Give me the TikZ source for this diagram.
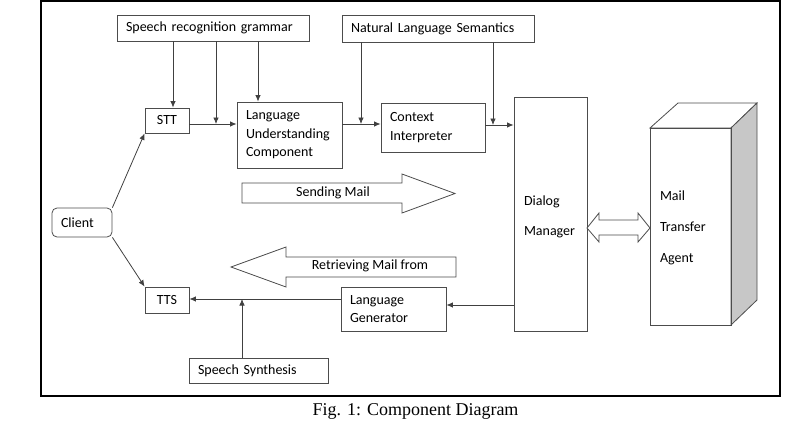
\documentclass[tikz,border=0pt]{standalone}
\usepackage{fontspec}
\setmainfont{Carlito}
\newfontfamily\capfont{Liberation Serif}
\usetikzlibrary{arrows.meta}

\tikzset{
  box/.style={draw=black!70, line width=0.8pt, inner xsep=9pt, inner ysep=0pt, align=left,
    font=\fontsize{14}{18.5}\selectfont},
  cbox/.style={box, align=center, inner xsep=0pt},
  arr/.style={draw=black!75, line width=0.8pt, -{Latex[length=6.5pt,width=5.5pt]}},
  blk/.style={draw=black!70, line width=0.8pt, fill=white, line join=miter}
}

\begin{document}
\begin{tikzpicture}[x=1pt,y=-1pt]
\useasboundingbox (0,0) rectangle (796,424);
\draw[line width=1.4pt] (41,1) rectangle (780,396);

% grammar and semantics sources
\node[box, text width=174, minimum height=26](srg) at (213,28) {Speech recognition grammar};
\node[box, text width=174, minimum height=27](nls) at (438,28.5) {Natural Language Semantics};

% input chain
\node[cbox, text width=44, minimum height=25](stt) at (167,120.5) {STT};
\node[box, text width=87, minimum height=66](luc) at (289.5,135) {Language\\Understanding\\Component};
\node[box, text width=86, minimum height=49](ci) at (433,127.5) {Context\\Interpreter};
\node[box, inner xsep=10pt, text width=53, minimum height=234,
  font=\fontsize{14}{30}\selectfont](dm) at (550.5,214) {\mbox{}\\[-14pt]Dialog\\Manager};

% output chain
\node[box, rounded corners=5pt, text width=42, minimum height=29](client) at (82,222.5) {Client};
\node[cbox, text width=44, minimum height=26](tts) at (167,300) {TTS};
\node[box, text width=87, minimum height=44](lg) at (393.5,309) {Language\\Generator};
\node[box, text width=121, minimum height=25](ss) at (258.5,370.5) {Speech Synthesis};

% mail transfer agent as a block
\draw[blk] (650,128) -- (678,103) -- (757,103) -- (731,128) -- cycle;
\draw[blk, fill=black!22] (731,128) -- (757,103) -- (757,300) -- (731,325) -- cycle;
\node[box, inner xsep=10pt, text width=61, minimum height=197,
  font=\fontsize{14}{31}\selectfont](mta) at (690.5,226.5) {\mbox{}\\[-19pt]Mail\\Transfer\\Agent};

% block arrows
\draw[blk] (242,183) -- (402,183) -- (402,174) -- (455,193.5) -- (402,213) -- (402,203) -- (242,203) -- cycle;
\node[font=\fontsize{14}{16}\selectfont](send) at (333,193) {Sending Mail};
\draw[blk] (456,257) -- (286,257) -- (286,247) -- (231,267) -- (286,287) -- (286,277) -- (456,277) -- cycle;
\node[font=\fontsize{14}{16}\selectfont](retr) at (370,266) {Retrieving Mail from};
\draw[blk] (587,228) -- (599,213) -- (599,220) -- (638,220) -- (638,213) -- (650,228)
  -- (638,242) -- (638,235) -- (599,235) -- (599,242) -- cycle;

% junctions
\coordinate(d1) at (173,0);
\coordinate(d2) at (258,0);
\coordinate(j1) at (216,124);
\coordinate(j2) at (361,124);
\coordinate(j3) at (493,125);
\coordinate(s1) at (242,299);
\coordinate(k1) at (0,305);

\draw[arr] (srg.south -| d1) -- (stt.north -| d1);
\draw[arr] (srg.south -| j1) -- (j1);
\draw[arr] (srg.south -| d2) -- (luc.north -| d2);
\draw[arr] (stt.east |- j1) -- (luc.west |- j1);
\draw[arr] (nls.south -| j2) -- (j2);
\draw[arr] (luc.east |- j2) -- (ci.west |- j2);
\draw[arr] (nls.south -| j3) -- (j3);
\draw[arr] (ci.east |- j3) -- (dm.west |- j3);

\draw[arr] (client.north east) -- (stt.south west);
\draw[arr] (client.south east) -- (tts.north west);
\draw[arr] (dm.west |- k1) -- (lg.east |- k1);
\draw[arr] (lg.west |- s1) -- (tts.east |- s1);
\draw[arr] (ss.north -| s1) -- (s1);

\node[font=\capfont\fontsize{18}{20}\selectfont](cap) at (415.5,411) {Fig. 1: Component Diagram};
\end{tikzpicture}
\end{document}
